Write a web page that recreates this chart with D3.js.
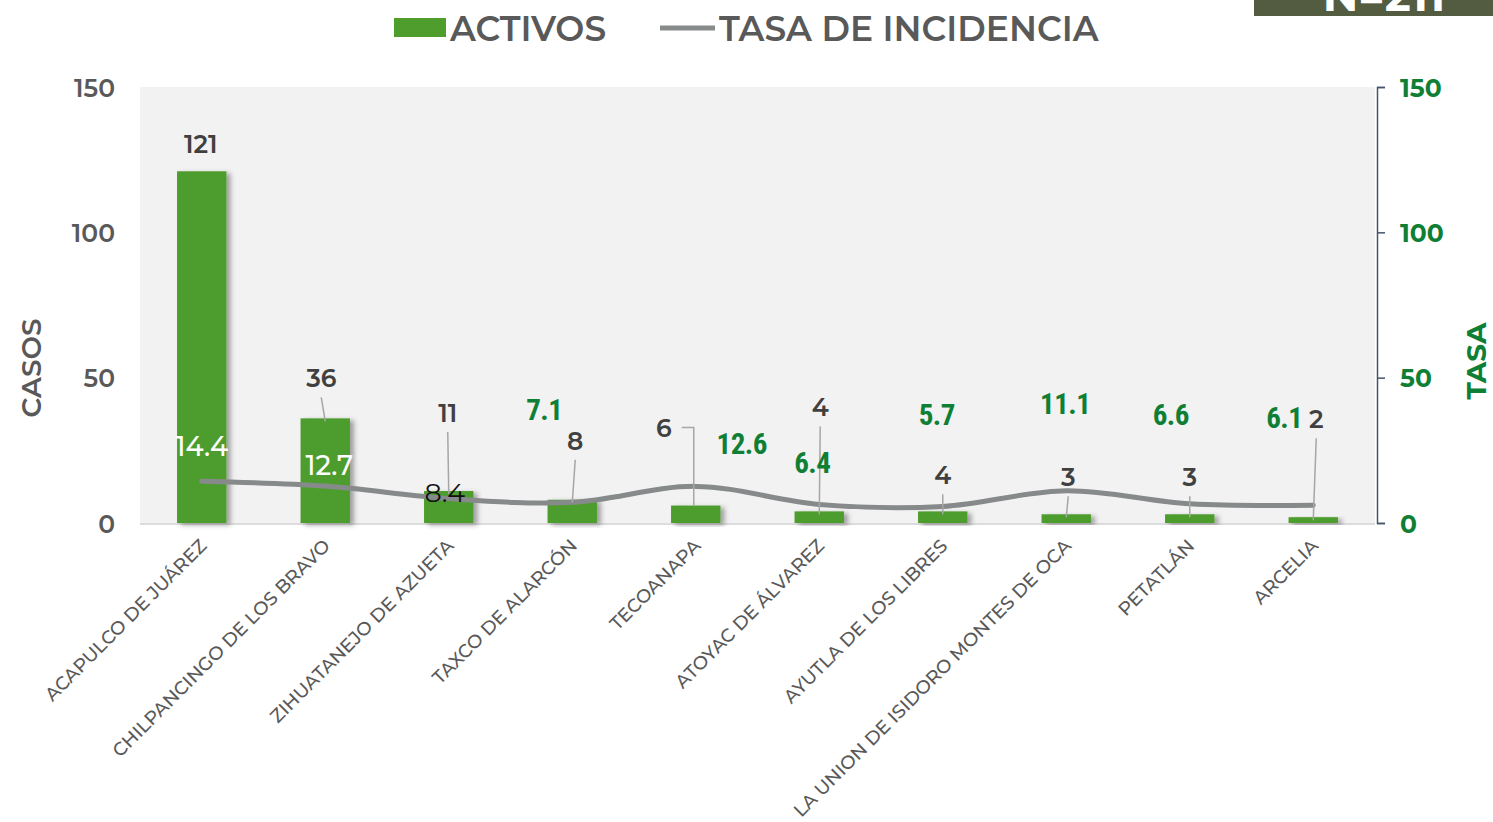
<!DOCTYPE html>
<meta charset="utf-8">
<style>
body { margin: 0; background: #fff; }
text { font-family: Montserrat, "DejaVu Sans", sans-serif; }
.tick line { stroke: #44546a; }
</style>
<body>
<script src="https://d3js.org/d3.v7.min.js"></script>
<script>
var municipios = ["ACAPULCO DE JUÁREZ", "CHILPANCINGO DE LOS BRAVO", "ZIHUATANEJO DE AZUETA",
  "TAXCO DE ALARCÓN", "TECOANAPA", "ATOYAC DE ÁLVAREZ", "AYUTLA DE LOS LIBRES",
  "LA UNION DE ISIDORO MONTES DE OCA", "PETATLÁN", "ARCELIA"];
var activos = [121, 36, 11, 8, 6, 4, 4, 3, 3, 2];
var tasa = [14.4, 12.7, 8.4, 7.1, 12.6, 6.4, 5.7, 11.1, 6.6, 6.1];
var yTicks = [0, 50, 100, 150];
var total = 211;

// label placement (pixels, relative to bar top / line point)
var cntOff = [[-1, -27], [-4, -40], [-1, -78], [3, -59], [-32, -78], [1, -104], [0, -36], [2, -37], [0, -37], [3, -98]];
var tasaOff = [[0, -35], [4, -21], [-4, -6], [-28, -93], [46, -43], [-7, -42], [-6, -92], [-1, -87], [-19, -89], [-29, -88]];
var tasaCls = ["w", "w", "k", "g", "g", "g", "g", "g", "g", "g"];

var W = 1493, H = 822;
var m = {left: 140, right: 1375, top: 87, bottom: 523};
var grey = "#595959", green = "#0e7f35", barCol = "#4e9d2d";

var svg = d3.select("body").append("svg").attr("width", W).attr("height", H);

var defs = svg.append("defs");
var f = defs.append("filter").attr("id", "sh").attr("x", "-20%").attr("y", "-20%").attr("width", "160%").attr("height", "140%");
f.append("feDropShadow").attr("dx", 4).attr("dy", 2).attr("stdDeviation", 2.5)
  .attr("flood-color", "#000").attr("flood-opacity", 0.35);

var x = d3.scaleBand().domain(municipios).range([m.left, m.right]).paddingInner(0.6).paddingOuter(0.3);
var y = d3.scaleLinear().domain([0, 150]).range([m.bottom, m.top]);
var y2 = d3.scaleLinear().domain([0, 150]).range([m.bottom, m.top]);
var cx = function(d) { return x(d) + x.bandwidth() / 2; };

// plot area
svg.append("rect").attr("x", m.left).attr("y", m.top).attr("width", m.right - m.left)
  .attr("height", m.bottom - m.top).attr("fill", "#f2f2f2");
svg.append("line").attr("x1", m.left).attr("x2", m.right).attr("y1", m.bottom + 1).attr("y2", m.bottom + 1)
  .attr("stroke", "#dcdcdc").attr("stroke-width", 2);

// left axis
var gl = svg.append("g").attr("transform", "translate(" + (m.left - 25) + ",0)")
  .call(d3.axisLeft(y).tickValues(yTicks).tickSize(0).tickPadding(0));
gl.select(".domain").remove();
gl.selectAll("text").attr("fill", grey).attr("font-size", 25).attr("font-weight", 600)
  .attr("dy", "0.36em").style("font-family", "Montserrat, 'DejaVu Sans', sans-serif");

// right axis
var gr = svg.append("g").attr("transform", "translate(" + (m.right + 2) + ",0)")
  .call(d3.axisRight(y2).tickValues(yTicks).tickSize(8).tickSizeOuter(8).tickPadding(15));
gr.select(".domain").attr("stroke", "#44546a").attr("stroke-width", 1.5);
gr.selectAll(".tick line").attr("stroke-width", 1.5);
gr.selectAll("text").attr("fill", green).attr("font-size", 25).attr("font-weight", "bold")
  .attr("dy", "0.36em").style("font-family", "Montserrat, 'DejaVu Sans', sans-serif");

// axis titles
svg.append("text").attr("transform", "translate(41,368) rotate(-90)").attr("text-anchor", "middle")
  .attr("font-size", 28).attr("font-weight", 600).attr("fill", grey).text("CASOS");
svg.append("text").attr("transform", "translate(1486,361) rotate(-90)").attr("text-anchor", "middle")
  .attr("font-size", 28).attr("font-weight", "bold").attr("fill", green).text("TASA");

// bars
svg.append("g").selectAll("rect").data(municipios).join("rect")
  .attr("x", function(d) { return x(d); })
  .attr("y", function(d, i) { return y(activos[i]); })
  .attr("width", x.bandwidth())
  .attr("height", function(d, i) { return y(0) - y(activos[i]); })
  .attr("fill", barCol).attr("filter", "url(#sh)");

// line
var line = d3.line().x(function(d, i) { return cx(municipios[i]); })
  .y(function(d) { return y2(d); }).curve(d3.curveCatmullRom.alpha(0.5));
svg.append("path").datum(tasa).attr("d", line).attr("fill", "none")
  .attr("stroke", "#878a8a").attr("stroke-width", 5).attr("stroke-linecap", "round");

// x labels
svg.append("g").selectAll("text").data(municipios).join("text")
  .attr("transform", function(d) { return "translate(" + (cx(d) + 6) + "," + (m.bottom + 24) + ") rotate(-45)"; })
  .attr("text-anchor", "end").attr("font-size", 18.5).attr("fill", grey).attr("font-weight", 500)
  .text(function(d) { return d; });

// count labels + leader lines
var lead = svg.append("g").attr("stroke", "#a6a6a6").attr("stroke-width", 1.5).attr("fill", "none");
municipios.forEach(function(d, i) {
  var bx = cx(d), by = y(activos[i]);
  var lx = bx + cntOff[i][0], ly = by + cntOff[i][1];
  svg.append("text").attr("x", lx).attr("y", ly).attr("dy", "0.36em").attr("text-anchor", "middle")
    .attr("font-size", 25).attr("font-weight", 600).attr("fill", "#404040").text(activos[i]);
  if (by - (ly + 19) > 8) {
    if (Math.abs(cntOff[i][0]) > 20) {
      lead.append("path").attr("d", "M" + (lx + 18) + "," + ly + "H" + (bx - 2) + "V" + by);
    } else {
      lead.append("line").attr("x1", lx).attr("y1", ly + 19).attr("x2", bx).attr("y2", by + 3);
    }
  }
});

// tasa labels
municipios.forEach(function(d, i) {
  var px = cx(d) + tasaOff[i][0], py = y2(tasa[i]) + tasaOff[i][1];
  var t = svg.append("text").attr("x", px).attr("y", py).attr("dy", "0.36em").attr("text-anchor", "middle")
    .text(tasa[i].toFixed(1));
  if (tasaCls[i] === "w") t.attr("fill", "#fff").attr("font-size", 27).attr("font-weight", 500);
  else if (tasaCls[i] === "k") t.attr("fill", "#111").attr("font-size", 27).attr("font-weight", 400);
  else t.attr("fill", green).attr("font-size", 29).attr("font-weight", "bold")
    .attr("letter-spacing", -0.5).style("font-family", "'Liberation Sans Narrow', 'Roboto Condensed', Roboto, sans-serif");
});

// legend
svg.append("rect").attr("x", 394).attr("y", 18).attr("width", 52).attr("height", 19).attr("fill", barCol);
svg.append("text").attr("x", 450).attr("y", 41).attr("font-size", 34.5).attr("font-weight", 600)
  .attr("fill", grey).text("ACTIVOS");
svg.append("line").attr("x1", 660).attr("x2", 715).attr("y1", 28).attr("y2", 28)
  .attr("stroke", "#878a8a").attr("stroke-width", 5);
svg.append("text").attr("x", 719).attr("y", 41).attr("font-size", 34.5).attr("font-weight", 600)
  .attr("fill", grey).text("TASA DE INCIDENCIA");

// N box
svg.append("rect").attr("x", 1254).attr("y", -10).attr("width", 240).attr("height", 26).attr("fill", "#535b40");
svg.append("text").attr("x", 1384).attr("y", 11).attr("text-anchor", "middle").attr("font-size", 44)
  .attr("font-weight", "bold").attr("fill", "#fff").text("N=" + total);
</script>
</body>
